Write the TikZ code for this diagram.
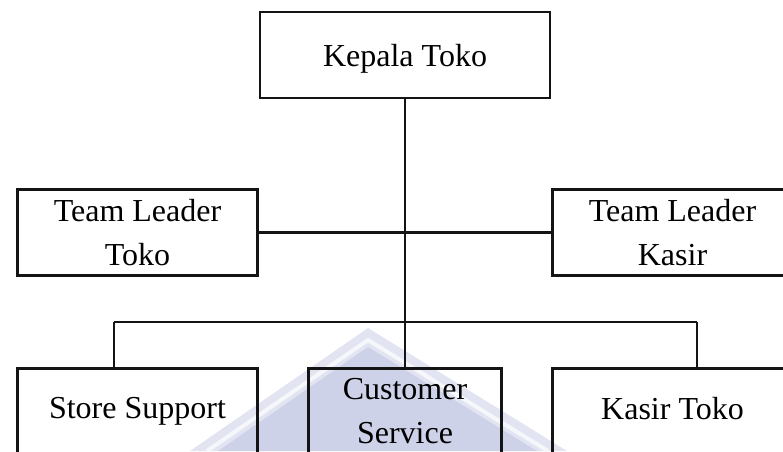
\documentclass[tikz,border=0pt]{standalone}
\usepackage{fontspec}
\setmainfont{Liberation Serif}
\definecolor{wmlight}{RGB}{226,228,242}
\definecolor{wmdark}{RGB}{206,210,232}
\definecolor{ink}{RGB}{20,20,20}
\tikzstyle{box} = [draw=ink, line width=2.6pt, align=center, inner sep=0pt,
    minimum width=240, minimum height=86, font=\fontsize{32}{44}\selectfont]
\tikzstyle{line} = [draw=ink, line width=2.4pt]

\begin{document}
\begin{tikzpicture}[x=1pt, y=-1pt]
\useasboundingbox (0,0) rectangle (783,451);
\clip (0,0) rectangle (783,451);

% watermark
\fill[wmlight] (368,328) -- (190,451) -- (567,451) -- cycle;
\fill[wmdark] (368,347) -- (218,451) -- (537,451) -- cycle;
\draw[white!70!wmlight, line width=4pt] (207,451) -- (368,340) -- (548,451);

\node[box, minimum width=290, text depth=0pt] (kepala) at (405,55) {Kepala Toko};
\node[box] (tltoko) at (137.5,232.5) {Team Leader\\Toko};
\node[box] (tlkasir) at (672.5,232.5) {Team Leader\\Kasir};
\node[box, text depth=7pt] (store) at (137.5,411.5) {Store Support};
\node[box, minimum width=193] (cs) at (405,411.5) {Customer\\Service};
\node[box, text depth=7pt] (kasir) at (672.5,411.5) {Kasir Toko};

\coordinate (bus) at (405,322);
\coordinate (busleft) at (114,322);
\coordinate (busright) at (697,322);

\draw[line] (kepala) -- (bus);
\draw[line] (tltoko) -- (tlkasir);
\draw[line] (busleft) -- (busright);
\draw[line] (busleft) -- (busleft |- store.north);
\draw[line] (bus) -- (cs);
\draw[line] (busright) -- (busright |- kasir.north);
\end{tikzpicture}
\end{document}
